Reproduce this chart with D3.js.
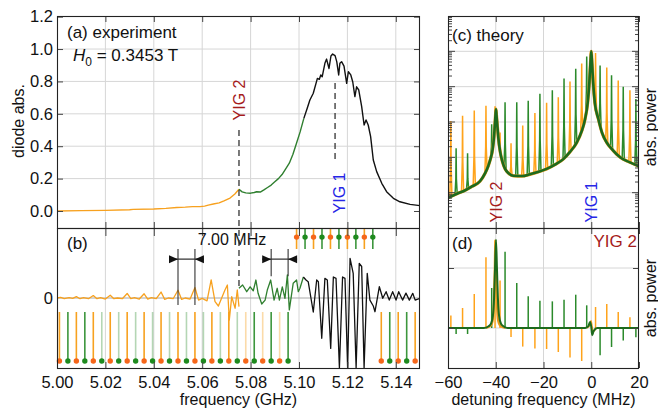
<!DOCTYPE html>
<html><head><meta charset="utf-8">
<script src="https://cdn.jsdelivr.net/npm/d3@7"></script>
<style>
body{margin:0;background:#fff}
text{font-family:"Liberation Sans",Arial,Helvetica,sans-serif;fill:#111}
</style>
</head><body>
<svg id="fig" width="658" height="413"></svg>
<script>
// ---------- (a) diode absorption, three spectral regions ----------
const absOrange = [[5.000,0.000],[5.010,0.002],[5.020,0.004],[5.030,0.008],[5.0315,0.010],[5.040,0.012],[5.045,0.016],[5.0495,0.022],[5.053,0.024],[5.056,0.027],[5.0591,0.027],[5.061,0.030],[5.0625,0.036],[5.0646,0.043],[5.067,0.050],[5.069,0.062],[5.0715,0.080],[5.0735,0.105],[5.0752,0.134]];
const absGreen = [[5.0752,0.134],[5.0765,0.118],[5.078,0.112],[5.080,0.110],[5.0815,0.114],[5.0825,0.119],[5.084,0.117],[5.0855,0.130],[5.087,0.145],[5.0885,0.160],[5.090,0.180],[5.0915,0.200],[5.093,0.225],[5.0945,0.260],[5.096,0.295],[5.0975,0.350],[5.099,0.420],[5.1005,0.490],[5.102,0.572]];
const absBlack = [[5.102,0.572],[5.1034,0.634],[5.1045,0.685],[5.1059,0.727],[5.1076,0.819],[5.1084,0.813],[5.109,0.840],[5.1096,0.829],[5.1107,0.912],[5.1114,0.938],[5.1124,0.880],[5.1132,0.957],[5.1139,0.969],[5.1149,0.959],[5.1156,0.922],[5.1164,0.840],[5.1169,0.912],[5.1176,0.922],[5.1186,0.895],[5.1197,0.788],[5.1204,0.860],[5.1214,0.840],[5.1222,0.798],[5.1231,0.706],[5.1238,0.767],[5.1247,0.747],[5.1259,0.644],[5.1269,0.531],[5.1277,0.562],[5.1286,0.531],[5.1296,0.459],[5.1307,0.315],[5.1321,0.243],[5.1342,0.171],[5.1362,0.119],[5.139,0.078],[5.1417,0.057],[5.1459,0.041],[5.150,0.033]];

// ---------- (b) background-subtracted signal ----------
const sigOrange = [[5.000,0.00],[5.0015,0.01],[5.003,-0.01],[5.005,0.005],[5.0065,-0.005],[5.008,0.02],[5.0095,-0.01],[5.011,0.005],[5.013,-0.01],[5.015,0.035],[5.0165,-0.01],[5.018,0.005],[5.020,-0.015],[5.022,0.04],[5.0235,-0.01],[5.025,0.0],[5.027,-0.01],[5.029,0.065],[5.0305,-0.01],[5.032,0.005],[5.034,-0.015],[5.036,0.06],[5.0375,-0.015],[5.039,0.005],[5.041,-0.01],[5.043,0.085],[5.0445,-0.02],[5.046,0.0],[5.048,-0.01],[5.050,0.11],[5.0515,-0.02],[5.053,0.0],[5.055,-0.015],[5.057,0.15],[5.0585,-0.03],[5.060,-0.005],[5.062,-0.04],[5.0637,0.26],[5.0653,-0.053],[5.0667,-0.114],[5.0694,0.114],[5.0704,0.186],[5.0712,-0.314],[5.0722,0.019],[5.0736,-0.147],[5.0745,0.114],[5.0752,-0.124]];
const sigGreen = [[5.0752,0.139],[5.0767,0.186],[5.0784,0.09],[5.0798,0.16],[5.0811,0.104],[5.0822,0.257],[5.0831,0.067],[5.0846,-0.086],[5.086,-0.03],[5.0869,0.114],[5.0883,0.257],[5.0897,-0.03],[5.091,0.139],[5.0919,-0.03],[5.0931,0.16],[5.0942,-0.005],[5.0952,0.33],[5.096,-0.17],[5.0976,0.21],[5.099,0.257],[5.0997,0.09],[5.1004,0.14],[5.1018,0.30]];
const sigBlack = [[5.1018,0.30],[5.1029,0.257],[5.1038,0.233],[5.1059,-0.2],[5.1073,0.257],[5.108,0.233],[5.1094,-0.576],[5.1107,0.28],[5.1117,0.257],[5.1131,-0.72],[5.1142,0.30],[5.1153,0.28],[5.1167,-1.0],[5.118,0.30],[5.119,0.28],[5.1201,-1.0],[5.1211,0.567],[5.1224,0.353],[5.1236,-1.0],[5.1249,0.496],[5.1259,0.45],[5.1269,-1.0],[5.1282,0.353],[5.1293,-0.03],[5.1307,-0.114],[5.1314,-0.196],[5.1332,0.161],[5.1346,-0.004],[5.136,0.09],[5.1373,-0.03],[5.1387,0.09],[5.1401,-0.03],[5.1412,0.09],[5.1428,-0.03],[5.1442,0.07],[5.1456,-0.03],[5.147,0.067],[5.148,-0.03],[5.150,-0.005]];

// frequency-comb lines (GHz)
const combOrange = [5.001,5.008,5.015,5.022,5.029,5.036,5.043,5.050,5.057,5.064,5.071,5.078,5.085,5.092,5.099,5.106,5.113,5.120,5.127,5.134,5.141,5.148];
const combGreen = [5.0045,5.0115,5.0185,5.0255,5.0325,5.0395,5.0465,5.0535,5.0605,5.0675,5.0745,5.0815,5.0885,5.0955,5.1025,5.1095,5.1165,5.1235,5.1305,5.1375,5.1445];
const spacingPairs = [[5.050,5.057],[5.0885,5.0955]];
const spacingLabel = "7.00 MHz";
const yig2Freq = 5.0752, yig1Freq = 5.1149;

// axis ticks
const freqTicks = [5.00,5.02,5.04,5.06,5.08,5.10,5.12,5.14];
const absTicks = [0.0,0.2,0.4,0.6,0.8,1.0,1.2];
const detTicks = [-60,-40,-20,0,20];

// ---------- (c) theory, absorbed power (log) ----------
const theoryAbs = [[-60,7.2e-5],[-56,9.5e-5],[-53.6,1.1e-4],[-50,1.5e-4],[-46.6,2.1e-4],[-44.5,3.5e-4],[-43.1,5.8e-4],[-42.2,9e-4],[-41.3,1.7e-3],[-40.7,4.0e-3],[-40.3,9.8e-3],[-40.1,1.6e-2],[-39.9,2.3e-2],[-39.7,1.6e-2],[-39.4,9e-3],[-38.9,3.5e-3],[-38.2,1.5e-3],[-37.2,7.5e-4],[-36.1,4.7e-4],[-34.5,3.5e-4],[-32.6,3.0e-4],[-29,2.95e-4],[-25.7,3.3e-4],[-22,3.9e-4],[-18.7,4.7e-4],[-15,6.3e-4],[-11.7,8.9e-4],[-9,1.4e-3],[-6.1,2.6e-3],[-4,5.5e-3],[-2.6,1.2e-2],[-1.5,3.5e-2],[-0.8,1.3e-1],[-0.35,4.5e-1],[0,1.0],[0.35,4.5e-1],[0.8,1.3e-1],[1.5,3.5e-2],[3.0,1.2e-2],[4.5,5e-3],[6.5,2.6e-3],[9,1.6e-3],[12.1,1.0e-3],[16,7.3e-4],[20,5.6e-4]];
const detOrange = [-58.8,-53.9,-49.0,-44.1,-40.3,-38.2,-33.6,-28.7,-23.6,-18.7,-13.8,-8.9,-4.0,1.8,6.5,11.3,16.2];
const detGreen = [-56.6,-51.8,-41.7,-36.1,-31.2,-26.4,-21.5,-16.3,-11.4,-6.5,-1.9,3.7,8.5,13.4,18.7];
const powOrangeC = [0.0107,0.015,0.021,0.029,0.028,0.005,0.0025,0.0079,0.018,0.035,0.05,0.14,0.45,0.89,0.35,0.15,0.079];
const powGreenC = [1.8e-3,1.3e-3,8.7e-3,3.6e-2,3.6e-2,4.0e-2,6.3e-2,7.9e-2,0.17,0.32,0.71,0.40,0.21,0.10,0.045];

// ---------- (d) theory, YIG 2 absorbed power ----------
const powOrangeD = [0.21,0.333,0.567,1.18,1.47,0.79,-0.15,-0.31,-0.34,-0.35,-0.40,-0.49,-0.55,0.35,0.40,0.267,0.18];
const powGreenD = [-0.10,-0.10,0.667,1.27,0.75,0.53,0.455,0.444,0.47,0.555,0.378,-0.455,-0.317,-0.21,-0.156];
const yig2Green = [[-60,0],[-45,0],[-43,0.03],[-42,0.07],[-41.2,0.2],[-40.7,0.5],[-40.3,1.0],[-39.9,1.47],[-39.5,1.0],[-39.1,0.5],[-38.6,0.2],[-37.8,0.07],[-36.8,0.03],[-35,0],[-2.5,0],[-1.2,0.03],[-0.5,0.1],[0,0.02],[0.4,-0.12],[1.0,-0.05],[2.5,0],[20,0]];
const yig2Orange = [[-44,0],[-42,0.04],[-41.3,0.12],[-40.8,0.4],[-40.4,1.0],[-40.2,1.45],[-39.9,1.0],[-39.5,0.4],[-39,0.12],[-38.2,0.04],[-36,0]];
const yig1Orange = [[-2,0],[-0.6,0.05],[-0.1,0.12],[0.4,0],[0.9,-0.06],[2,0]];

// ---------- colours ----------
const C = {orange:"#f7a11f", green:"#2f7f2f", dotOrange:"#f5661a", dotGreen:"#1e8a1e",
  dark:"#1d6a1d", grid:"#d6d6d6", tick:"#444", red:"#a51c1c", blue:"#2626e6"};

// ---------- scales ----------
const xF = d3.scaleLinear().domain([5.00,5.15]).range([57,420]);
const yA = d3.scaleLinear().domain([-0.105,1.204]).range([228,16]);
const yB = d3.scaleLinear().domain([-1,1]).range([368,228]);
const xT = d3.scaleLinear().domain([-60,20]).range([448,639]);
const yC = d3.scaleLog().domain([1e-5,10]).range([228,16]);
const yD = d3.scaleLinear().domain([-0.667,1.667]).range([368,228]);

const svg = d3.select("#fig");
const defs = svg.append("defs");
function clipRect(id,x0,y0,x1,y1){
  defs.append("clipPath").attr("id",id).append("rect")
    .attr("x",x0).attr("y",y0).attr("width",x1-x0).attr("height",y1-y0);
  return "url(#"+id+")";
}
const clipA = clipRect("ca",57,16,420,228), clipB = clipRect("cb",57,228,420,368);
const clipC = clipRect("cc",448,16,639,228), clipD = clipRect("cd",448,228,639,368);

function vGrid(x, vals, y0, y1){
  svg.append("g").selectAll("line").data(vals).join("line")
    .attr("x1",d=>x(d)).attr("x2",d=>x(d)).attr("y1",y0).attr("y2",y1)
    .attr("stroke",C.grid).attr("stroke-width",1);
}
function hGrid(y, vals, x0, x1){
  svg.append("g").selectAll("line").data(vals).join("line")
    .attr("y1",d=>y(d)).attr("y2",d=>y(d)).attr("x1",x0).attr("x2",x1)
    .attr("stroke",C.grid).attr("stroke-width",1);
}
function styleAxis(g){
  g.select(".domain").remove();
  g.selectAll(".tick line").attr("stroke",C.tick);
  g.selectAll(".tick text").attr("font-size",16.5).attr("fill","#111")
    .attr("font-family","Liberation Sans, Arial, sans-serif");
}
function addAxis(axis, tx, ty){
  svg.append("g").attr("transform",`translate(${tx},${ty})`).call(axis).call(styleAxis);
}
function drawLine(data, x, y, color, width, clip, curve){
  svg.append("path").datum(data)
    .attr("d", d3.line().x(d=>x(d[0])).y(d=>y(d[1])).curve(curve||d3.curveLinear))
    .attr("fill","none").attr("stroke",color).attr("stroke-width",width)
    .attr("stroke-linejoin","round").attr("clip-path",clip);
}

// ================= panel (a) =================
vGrid(xF, freqTicks.slice(1), 16, 228);
hGrid(yA, absTicks.slice(1,-1), 57, 420);
drawLine(absOrange, xF, yA, C.orange, 1.4, clipA);
drawLine(absGreen, xF, yA, C.green, 1.4, clipA);
drawLine(absBlack, xF, yA, "#111", 1.4, clipA);

addAxis(d3.axisLeft(yA).tickValues(absTicks).tickSize(-6).tickPadding(4).tickFormat(d3.format(".1f")), 57, 0);
addAxis(d3.axisRight(yA).tickValues(absTicks).tickSize(-6).tickFormat(""), 420, 0);
addAxis(d3.axisTop(xF).tickValues(freqTicks).tickSize(-6).tickFormat(""), 0, 16);
addAxis(d3.axisBottom(xF).tickValues(freqTicks).tickSize(-6).tickFormat(""), 0, 228);

svg.append("text").attr("x",67).attr("y",38).attr("font-size",17).text("(a) experiment");
const h0 = svg.append("text").attr("x",73).attr("y",61).attr("font-size",17);
h0.append("tspan").attr("font-style","italic").text("H");
h0.append("tspan").attr("dy",5).attr("font-size",12).text("0");
h0.append("tspan").attr("dy",-5).text(" = 0.3453 T");

svg.append("text").attr("transform","translate(24,121) rotate(-90)")
  .attr("text-anchor","middle").attr("font-size",16).text("diode abs.");

// ================= panel (b) =================
vGrid(xF, freqTicks.slice(1), 228, 368);
svg.append("line").attr("x1",57).attr("x2",420).attr("y1",yB(0)).attr("y2",yB(0))
  .attr("stroke","#a8a8a8").attr("stroke-width",1);

// comb stems: bottom row outside the main resonance, top row across it
function combRow(f){ return (f > 5.097 && f < 5.132) ? "top" : "bottom"; }
function stemOpacity(f, kind){
  if (combRow(f) === "top" || f > 5.132) return 1;
  if (kind === "green" && f < yig2Freq && f > 5.015) return 0.38;
  if (kind === "orange" && f > yig2Freq) return 0.38;
  return 1;
}
function drawComb(freqs, kind, lineCol, dotCol){
  const g = svg.append("g");
  freqs.forEach(f=>{
    const top = combRow(f) === "top";
    const y1 = top ? yB(0.985) : yB(-0.2);
    const y2 = top ? yB(0.70) : yB(-0.9);
    const yd = top ? yB(0.87) : yB(-0.9);
    const op = stemOpacity(f, kind);
    g.append("line").attr("x1",xF(f)).attr("x2",xF(f)).attr("y1",y1).attr("y2",y2)
      .attr("stroke",lineCol).attr("stroke-width",1.6).attr("opacity",op);
    g.append("circle").attr("cx",xF(f)).attr("cy",yd).attr("r",2.7).attr("fill",dotCol);
  });
}
drawComb(combOrange, "orange", C.orange, C.dotOrange);
drawComb(combGreen, "green", "#3d963d", C.dotGreen);

drawLine(sigOrange, xF, yB, C.orange, 1.3, clipB);
drawLine(sigGreen, xF, yB, C.green, 1.3, clipB);
drawLine(sigBlack, xF, yB, "#111", 1.3, clipB);

addAxis(d3.axisLeft(yB).tickValues([0]).tickSize(0).tickPadding(4).tickFormat(d3.format("d")), 57, 0);
addAxis(d3.axisBottom(xF).tickValues(freqTicks).tickSize(-6).tickPadding(8).tickFormat(d3.format(".2f")), 0, 368);
addAxis(d3.axisTop(xF).tickValues(freqTicks).tickSize(-8).tickFormat(""), 0, 228);

svg.append("text").attr("x",67).attr("y",249).attr("font-size",17).text("(b)");
svg.append("text").attr("x",238.5).attr("y",405).attr("text-anchor","middle")
  .attr("font-size",16).text("frequency (GHz)");

// spacing markers
svg.append("text").attr("x",232).attr("y",245).attr("text-anchor","middle")
  .attr("font-size",16).text(spacingLabel);
const ends = [yB(-0.1), yB(0.31)];
spacingPairs.forEach((p,i)=>{
  const xa = xF(p[0]), xb = xF(p[1]), yh = yB(0.555);
  const g = svg.append("g").attr("stroke","#333").attr("fill","#111");
  [xa,xb].forEach(x=> g.append("line").attr("x1",x).attr("x2",x)
    .attr("y1",yB(0.7)).attr("y2",ends[i]).attr("stroke-width",1.1));
  g.append("line").attr("x1",xa-9).attr("x2",xb+9).attr("y1",yh).attr("y2",yh).attr("stroke-width",1.1);
  g.append("path").attr("d",`M${xa-9},${yh-4}L${xa},${yh}L${xa-9},${yh+4}Z`).attr("stroke","none");
  g.append("path").attr("d",`M${xb+9},${yh-4}L${xb},${yh}L${xb+9},${yh+4}Z`).attr("stroke","none");
});

// resonance markers
svg.append("line").attr("x1",xF(yig2Freq)).attr("x2",xF(yig2Freq))
  .attr("y1",yA(0.5)).attr("y2",yB(0.14))
  .attr("stroke","#333").attr("stroke-width",1.3).attr("stroke-dasharray","6,4");
svg.append("line").attr("x1",xF(yig1Freq)).attr("x2",xF(yig1Freq))
  .attr("y1",yA(0.79)).attr("y2",yA(0.30))
  .attr("stroke","#333").attr("stroke-width",1.3).attr("stroke-dasharray","6,4");
svg.append("text").attr("transform",`translate(${xF(yig2Freq)+6},100) rotate(-90)`)
  .attr("text-anchor","middle").attr("font-size",16).style("fill",C.red).text("YIG 2");
svg.append("text").attr("transform",`translate(${xF(yig1Freq)+10},193) rotate(-90)`)
  .attr("text-anchor","middle").attr("font-size",16).style("fill",C.blue).text("YIG 1");

// ================= panel (c) =================
vGrid(xT, detTicks.slice(1,-1), 16, 228);
const decades = [1e-4,1e-3,1e-2,1e-1,1];
hGrid(yC, decades, 448, 639);

// background level under each comb line (log-linear between listed points)
function bgAt(d){
  const i = d3.bisector(p=>p[0]).left(theoryAbs, d);
  const a = theoryAbs[Math.max(0,i-1)], b = theoryAbs[Math.min(theoryAbs.length-1,i)];
  if (a === b) return a[1];
  const t = (d-a[0])/(b[0]-a[0]);
  return Math.pow(10, Math.log10(a[1]) + t*(Math.log10(b[1])-Math.log10(a[1])));
}
function drawSpikes(dets, pows, color){
  const g = svg.append("g").attr("clip-path",clipC);
  dets.forEach((d,i)=>{
    const w = 0.45;
    const pts = [[d-w,bgAt(d-w)],[d-0.12,Math.sqrt(bgAt(d)*pows[i])*0.6],[d,pows[i]],[d+0.12,Math.sqrt(bgAt(d)*pows[i])*0.6],[d+w,bgAt(d+w)]];
    g.append("path").attr("d",d3.line().x(p=>xT(p[0])).y(p=>yC(Math.max(p[1],bgAt(p[0]))))(pts))
      .attr("fill","none").attr("stroke",color).attr("stroke-width",1.5);
  });
}
drawSpikes(detOrange, powOrangeC, "#ffa31a");
drawSpikes(detGreen, powGreenC, "#2b8a2b");
drawLine(theoryAbs, xT, yC, "#e59c22", 3.2, clipC, d3.curveMonotoneX);
drawLine(theoryAbs, xT, yC, C.dark, 2.6, clipC, d3.curveMonotoneX);

const logTicks = yC.ticks().filter(v=>v>1e-5 && v<10);
const isMajor = v => Math.abs(Math.log10(v)-Math.round(Math.log10(v)))<1e-6;
function logAxis(side){
  const g = svg.append("g");
  logTicks.forEach(v=>{
    const len = isMajor(v) ? 7 : 4;
    const x0 = side==="left" ? 448 : 639;
    const x1 = side==="left" ? 448+len : 639-len;
    g.append("line").attr("x1",x0).attr("x2",x1).attr("y1",yC(v)).attr("y2",yC(v))
      .attr("stroke",C.tick).attr("stroke-width",1);
  });
}
logAxis("left"); logAxis("right");
addAxis(d3.axisTop(xT).tickValues(detTicks).tickSize(-6).tickFormat(""), 0, 16);
addAxis(d3.axisBottom(xT).tickValues(detTicks).tickSize(-6).tickFormat(""), 0, 228);

svg.append("text").attr("x",452).attr("y",41).attr("font-size",17).text("(c) theory");
svg.append("text").attr("transform",`translate(${xT(-40)+6},202) rotate(-90)`)
  .attr("text-anchor","middle").attr("font-size",16).style("fill",C.red).text("YIG 2");
svg.append("text").attr("transform",`translate(${xT(0)+6},202) rotate(-90)`)
  .attr("text-anchor","middle").attr("font-size",16).style("fill",C.blue).text("YIG 1");
svg.append("text").attr("transform","translate(656,127) rotate(-90)")
  .attr("text-anchor","middle").attr("font-size",16).text("abs. power");

// ================= panel (d) =================
vGrid(xT, detTicks.slice(1,-1), 228, 368);
hGrid(yD, [0,1], 448, 639);
function drawStems(dets, vals, color){
  svg.append("g").attr("clip-path",clipD).selectAll("line").data(dets).join("line")
    .attr("x1",d=>xT(d)).attr("x2",d=>xT(d)).attr("y1",yD(0)).attr("y2",(d,i)=>yD(vals[i]))
    .attr("stroke",color).attr("stroke-width",1.5);
}
drawStems(detOrange, powOrangeD, "#ffa31a");
drawStems(detGreen, powGreenD, "#2b8a2b");
drawLine(yig2Orange, xT, yD, "#e89a1c", 2.2, clipD, d3.curveMonotoneX);
drawLine(yig1Orange, xT, yD, "#e89a1c", 1.6, clipD, d3.curveMonotoneX);
drawLine(yig2Green, xT, yD, C.dark, 2.0, clipD, d3.curveMonotoneX);

addAxis(d3.axisLeft(yD).tickValues([0,1]).tickSize(-6).tickFormat(""), 448, 0);
addAxis(d3.axisRight(yD).tickValues([0,1]).tickSize(-6).tickFormat(""), 639, 0);
addAxis(d3.axisBottom(xT).tickValues(detTicks).tickSize(-6).tickPadding(8).tickFormat(d3.format("d")), 0, 368);
addAxis(d3.axisTop(xT).tickValues(detTicks).tickSize(-6).tickFormat(""), 0, 228);

svg.append("text").attr("x",452).attr("y",249).attr("font-size",17).text("(d)");
svg.append("text").attr("x",637).attr("y",247).attr("text-anchor","end")
  .attr("font-size",17).style("fill",C.red).text("YIG 2");
svg.append("text").attr("transform","translate(656,298) rotate(-90)")
  .attr("text-anchor","middle").attr("font-size",16).text("abs. power");
svg.append("text").attr("x",543.5).attr("y",405).attr("text-anchor","middle")
  .attr("font-size",16).text("detuning frequency (MHz)");

// ================= frames =================
[[57,16,420,228],[57,228,420,368],[448,16,639,228],[448,228,639,368]].forEach(r=>{
  svg.append("rect").attr("x",r[0]+0.5).attr("y",r[1]+0.5).attr("width",r[2]-r[0]-1).attr("height",r[3]-r[1])
    .attr("fill","none").attr("stroke","#222").attr("stroke-width",1.1);
});
</script>
</body></html>
